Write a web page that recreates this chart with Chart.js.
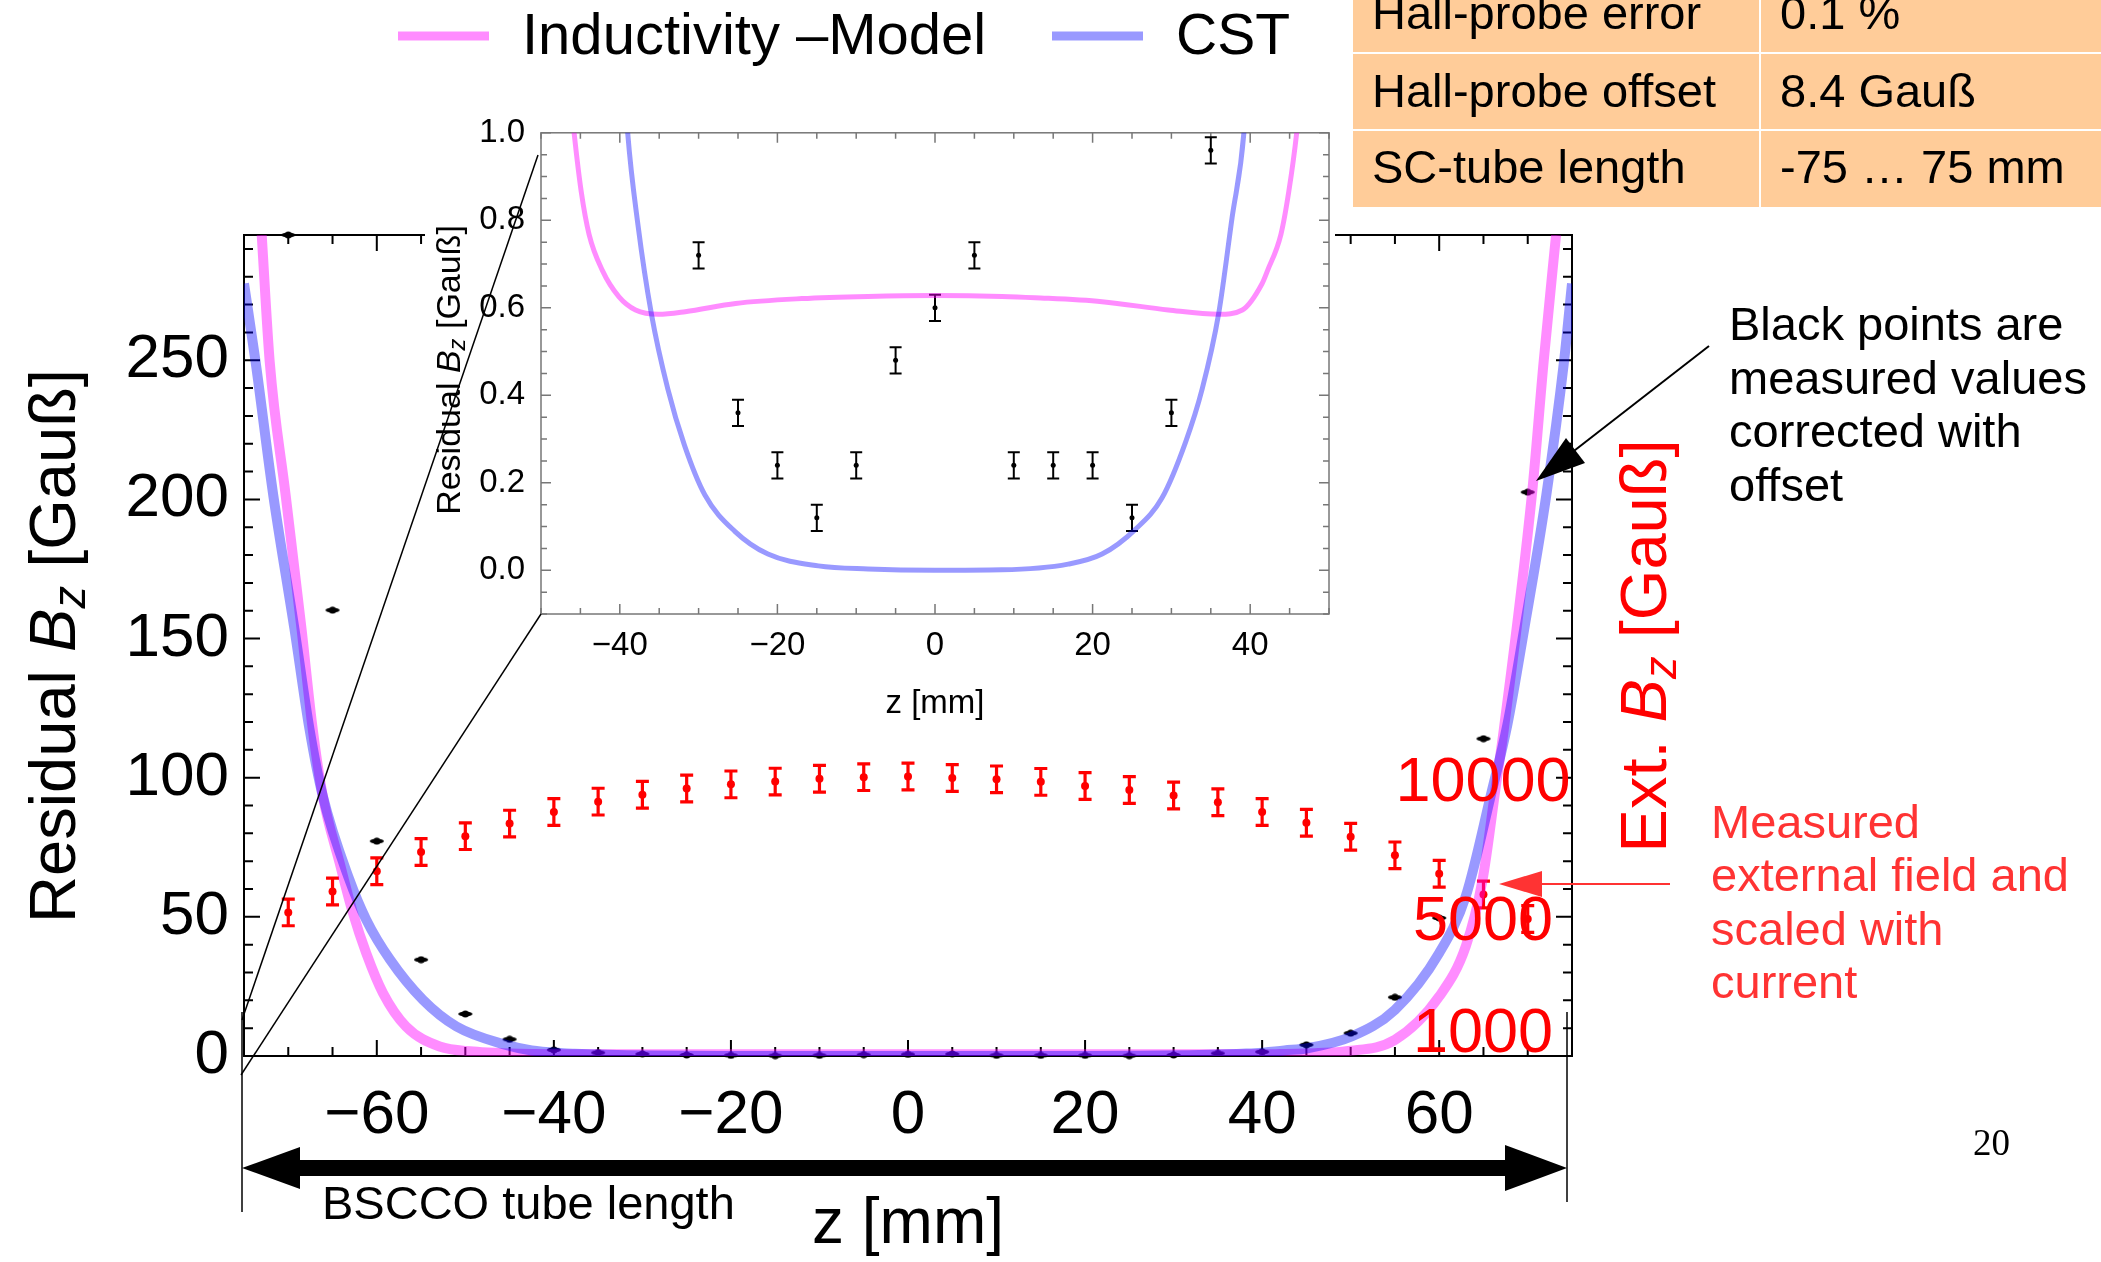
<!DOCTYPE html>
<html>
<head>
<meta charset="utf-8">
<title>Residual Bz</title>
<script src="https://cdn.jsdelivr.net/npm/chart.js@4.4.1/dist/chart.umd.min.js"></script>
<style>
  body { margin: 0; background: #fff; }
  #page { position: relative; width: 2101px; height: 1262px; overflow: hidden; background: #fff;
          font-family: "Liberation Sans", Arial, sans-serif; color: #000; }
  .t { position: absolute; white-space: nowrap; line-height: 1; }
  .rot { transform: translate(-50%, -50%) rotate(-90deg); }
  .cell { position: absolute; background: #ffcc99; }
  #mainChart { position: absolute; left: 0; top: 0; }
  #insetBox { position: absolute; left: 425px; top: 105px; width: 910px; height: 630px; background: #fff; }
  #overlay { position: absolute; left: 0; top: 0; }
  sub { font-size: 0.7em; vertical-align: -0.22em; line-height: 0; }
</style>
</head>
<body>
<div id="page">
  <canvas id="mainChart" width="2101" height="1262"></canvas>
  <div id="insetBox"><canvas id="insetChart" width="910" height="630"></canvas></div>

  <svg id="overlay" width="2101" height="1262">
    <!-- legend samples -->
    <line x1="398" y1="36" x2="489" y2="36" stroke="rgba(255,0,255,0.45)" stroke-width="9"/>
    <line x1="1052" y1="36" x2="1143" y2="36" stroke="rgba(0,0,255,0.4)" stroke-width="9"/>
    <!-- zoom lines to the inset -->
    <line x1="538" y1="155" x2="242" y2="1020" stroke="#000" stroke-width="1.5"/>
    <line x1="541" y1="614" x2="241" y2="1075" stroke="#000" stroke-width="1.5"/>
    <!-- tube length markers -->
    <line x1="242" y1="1012" x2="242" y2="1212" stroke="#000" stroke-width="1.5"/>
    <line x1="1567" y1="1012" x2="1567" y2="1202" stroke="#000" stroke-width="1.5"/>
    <rect x="296" y="1160" width="1212" height="16" fill="#000"/>
    <polygon points="242,1168 300,1147 300,1189" fill="#000"/>
    <polygon points="1567,1168 1505,1145 1505,1191" fill="#000"/>
    <!-- annotation arrows -->
    <line x1="1709" y1="346" x2="1570" y2="454" stroke="#000" stroke-width="2"/>
    <polygon points="1536,481 1585,463 1566,438" fill="#000"/>
    <line x1="1670" y1="884" x2="1540" y2="884" stroke="#ff3333" stroke-width="2"/>
    <polygon points="1499,884 1542,871 1542,897" fill="#ff3333"/>
  </svg>

  <!-- legend -->
  <div class="t" style="left:522px; top:5px; font-size:58px;">Inductivity –Model</div>
  <div class="t" style="left:1176px; top:6px; font-size:57px;">CST</div>

  <!-- parameter table -->
  <div class="cell" style="left:1353px; top:-24px; width:406px; height:76px;"></div>
  <div class="cell" style="left:1761px; top:-24px; width:340px; height:76px;"></div>
  <div class="cell" style="left:1353px; top:54px; width:406px; height:75px;"></div>
  <div class="cell" style="left:1761px; top:54px; width:340px; height:75px;"></div>
  <div class="cell" style="left:1353px; top:131px; width:406px; height:76px;"></div>
  <div class="cell" style="left:1761px; top:131px; width:340px; height:76px;"></div>
  <div class="t" style="left:1372px; top:-11px; font-size:47px;">Hall-probe error</div>
  <div class="t" style="left:1780px; top:-11px; font-size:47px;">0.1 %</div>
  <div class="t" style="left:1372px; top:67px; font-size:47px;">Hall-probe offset</div>
  <div class="t" style="left:1780px; top:67px; font-size:47px;">8.4 Gauß</div>
  <div class="t" style="left:1372px; top:143px; font-size:47px;">SC-tube length</div>
  <div class="t" style="left:1780px; top:143px; font-size:47px;">-75 … 75 mm</div>

  <!-- axis titles -->
  <div class="t rot" style="left:52px; top:646px; font-size:65px;">Residual <i>B</i><sub><i>z</i></sub> [Gauß]</div>
  <div class="t rot" style="left:1643px; top:646px; font-size:65px; color:#ff0000;">Ext. <i>B</i><sub><i>z</i></sub> [Gauß]</div>
  <div class="t" style="left:908px; top:1189px; font-size:64px; transform:translateX(-50%);">z [mm]</div>
  <div class="t rot" style="left:448px; top:370px; font-size:34px;">Residual <i>B</i><sub><i>z</i></sub> [Gauß]</div>
  <div class="t" style="left:935px; top:685px; font-size:33px; transform:translateX(-50%);">z [mm]</div>

  <!-- annotations -->
  <div class="t" style="left:322px; top:1179px; font-size:47px;">BSCCO tube length</div>
  <div class="t" style="left:1729px; top:297px; font-size:47px; line-height:53.5px;">Black points are<br>measured values<br>corrected with<br>offset</div>
  <div class="t" style="left:1711px; top:795px; font-size:47px; line-height:53.3px; color:#ff3333;">Measured<br>external field and<br>scaled with<br>current</div>
  <div class="t" style="left:1973px; top:1124px; font-size:37px; font-family:'Liberation Serif','Times New Roman',serif;">20</div>
</div>

<script>
  const FONT = '"Liberation Sans", Arial, sans-serif';

  // measurement positions along the tube, mm
  const zMeasured = [-70, -65, -60, -55, -50, -45, -40, -35, -30, -25, -20, -15, -10, -5, 0,
                     5, 10, 15, 20, 25, 30, 35, 40, 45, 50, 55, 60, 65, 70];
  // residual Bz inside the tube (black points), Gauss
  const residualMeasured = [295, 160.2, 77.2, 34.6, 15.1, 6.0, 2.2, 1.2, 0.72, 0.36, 0.24, 0.12, 0.24, 0.48, 0.60,
                            0.72, 0.24, 0.24, 0.24, 0.12, 0.36, 0.96, 1.5, 4.0, 8.2, 21.1, 49.6, 114.0, 202.6];
  const residualErr = 0.03;
  // external field scaled with current (red points), Gauss
  const extField = [5160, 5910, 6640, 7330, 7900, 8350, 8770, 9140, 9390, 9610, 9760, 9860, 9960, 10020, 10040,
                    9990, 9940, 9850, 9700, 9560, 9360, 9120, 8770, 8380, 7880, 7210, 6550, 5800, 4920];
  const extFieldErr = 480;

  // inductivity model curve
  const modelZ = [-73.0, -72.1, -70.3, -68.5, -67.3, -66.1, -64.2, -62.7, -61.2, -59.3,
                  -56.7, -52.9, -49.1, -45.8, -44.9, -43.9, -42.2, -40.1, -38.0, -35.1,
                  -31.7, -25.3, -16.9, -8.5, 0, 8.5, 12.7, 21.2, 29.6, 36.0,
                  39.0, 41.5, 42.2, 43.9, 44.9, 45.9, 49.5, 55.0, 60.0, 63.0,
                  64.9, 66.4, 67.3, 70.5, 71.8, 73.2];
  const modelBz = [295, 249.6, 201.6, 153.4, 119, 93.4, 69.4, 51.4, 37.0, 22.6,
                   10.6, 3.4, 1.6, 1.0, 0.866, 0.768, 0.685, 0.625, 0.595, 0.585,
                   0.591, 0.61, 0.621, 0.626, 0.628, 0.626, 0.623, 0.614, 0.595, 0.585,
                   0.595, 0.655, 0.685, 0.768, 0.866, 1.0, 1.7, 5.8, 21.4, 39.4,
                   63.4, 97, 117.4, 202.6, 249.6, 295];

  // CST simulation curve
  const cstZ = [-75, -73.7, -71.7, -69.3, -67.6, -66.1, -63.1, -61.2, -58.5, -54.8,
                -51.0, -45.4, -42.5, -39.0, -37.7, -36.0, -33.9, -31.8, -29.2, -25.4,
                -21.2, -14.8, -8.5, 0, 8.5, 16.9, 21.2, 25.4, 28.8, 31.8,
                33.9, 36.0, 37.7, 39.2, 42.5, 45.1, 50.1, 55.0, 60.0, 63.0,
                65.9, 67.7, 69.6, 72.1, 74.1, 75];
  const cstBz = [277.6, 249.6, 201.6, 153.4, 117.4, 93.4, 63.4, 49.0, 34.6, 20.2,
                 10.6, 4.0, 2.0, 1.0, 0.79, 0.587, 0.414, 0.286, 0.172, 0.089,
                 0.037, 0.010, 0.003, 0.0, 0.001, 0.014, 0.037, 0.093, 0.165, 0.293,
                 0.414, 0.587, 0.806, 1.0, 2.0, 2.8, 7.0, 16.6, 37.0, 57.4,
                 94.6, 119, 153.4, 201.6, 249.6, 277.6];

  // ticks
  const mainXTicks = [-60, -40, -20, 0, 20, 40, 60];
  const mainYTicks = [0, 50, 100, 150, 200, 250];
  const extTickLabels = [1000, 5000, 10000];
  const insetXTicks = [-40, -20, 0, 20, 40];
  const insetYTicks = [0, 0.2, 0.4, 0.6, 0.8, 1.0];

  const pinkLine = 'rgba(255, 0, 255, 0.45)';
  const blueLine = 'rgba(0, 0, 255, 0.4)';

  function xy(xs, ys) {
    return xs.map((x, i) => ({ x: x, y: ys[i] }));
  }
  function minus(v) {
    return v < 0 ? '\u2212' + Math.abs(v) : String(v);
  }
  function minorValues(min, max, step) {
    const out = [];
    for (let k = Math.ceil(min / step - 1e-9); k * step <= max + 1e-9; k++) out.push(k * step);
    return out;
  }

  // marker for the measured residual points: small flat blob with a dot
  const blob = document.createElement('canvas');
  blob.width = 16; blob.height = 8;
  (function () {
    const c = blob.getContext('2d');
    c.fillStyle = '#000';
    c.beginPath();
    c.ellipse(8, 4, 7, 2.6, 0, 0, Math.PI * 2);
    c.fill();
    c.beginPath();
    c.arc(8, 4, 3.6, 0, Math.PI * 2);
    c.fill();
  })();

  // box frame with inward ticks on all four sides
  const frameTicks = {
    id: 'frameTicks',
    beforeDatasetsDraw(chart, args, o) {
      const { ctx, chartArea: a } = chart;
      const xs = chart.scales.x, ys = chart.scales.y;
      ctx.save();
      ctx.strokeStyle = o.color;
      ctx.lineWidth = o.lineWidth;
      ctx.strokeRect(a.left, a.top, a.right - a.left, a.bottom - a.top);
      ctx.beginPath();
      minorValues(xs.min, xs.max, o.xStep).forEach((v) => {
        const len = o.xMajor.some((m) => Math.abs(m - v) < 1e-6) ? o.majorLen : o.minorLen;
        const px = xs.getPixelForValue(v);
        ctx.moveTo(px, a.bottom); ctx.lineTo(px, a.bottom - len);
        ctx.moveTo(px, a.top); ctx.lineTo(px, a.top + len);
      });
      minorValues(ys.min, ys.max, o.yStep).forEach((v) => {
        const len = o.yMajor.some((m) => Math.abs(m - v) < 1e-6) ? o.majorLen : o.minorLen;
        const py = ys.getPixelForValue(v);
        ctx.moveTo(a.left, py); ctx.lineTo(a.left + len, py);
        ctx.moveTo(a.right, py); ctx.lineTo(a.right - len, py);
      });
      ctx.stroke();
      ctx.restore();
    }
  };

  // vertical error bars for datasets carrying an "errors" list
  const errorBars = {
    id: 'errorBars',
    beforeDatasetsDraw(chart) {
      const { ctx, chartArea: a } = chart;
      chart.data.datasets.forEach((ds, i) => {
        if (!ds.errors) return;
        const meta = chart.getDatasetMeta(i);
        const ys = chart.scales[meta.yAxisID];
        ctx.save();
        ctx.beginPath();
        ctx.rect(a.left, a.top, a.right - a.left, a.bottom - a.top);
        ctx.clip();
        ctx.strokeStyle = ds.errorColor;
        ctx.lineWidth = ds.errorWidth;
        ctx.beginPath();
        meta.data.forEach((pt, j) => {
          const v = ds.data[j].y, e = ds.errors[j];
          const y1 = ys.getPixelForValue(v + e), y2 = ys.getPixelForValue(v - e);
          const x = pt.x, c = ds.capHalf;
          ctx.moveTo(x, y1); ctx.lineTo(x, y2);
          ctx.moveTo(x - c, y1); ctx.lineTo(x + c, y1);
          ctx.moveTo(x - c, y2); ctx.lineTo(x + c, y2);
        });
        ctx.stroke();
        ctx.restore();
      });
    }
  };

  // red labels of the external-field axis, drawn inside the frame
  const extAxisLabels = {
    id: 'extAxisLabels',
    afterDatasetsDraw(chart, args, o) {
      if (!o.values) return;
      const s = chart.scales.y2, ctx = chart.ctx;
      ctx.save();
      ctx.fillStyle = o.color;
      ctx.font = o.font;
      ctx.textAlign = 'center';
      ctx.textBaseline = 'middle';
      o.values.forEach((v) => ctx.fillText(String(v), chart.chartArea.right - o.offset, s.getPixelForValue(v) + o.shift));
      ctx.restore();
    }
  };

  new Chart(document.getElementById('mainChart'), {
    type: 'scatter',
    data: {
      datasets: [
        { label: 'CST', data: xy(cstZ, cstBz), showLine: true, borderColor: blueLine, borderWidth: 10,
          pointRadius: 0, cubicInterpolationMode: 'monotone', yAxisID: 'y', order: 0 },
        { label: 'Inductivity -Model', data: xy(modelZ, modelBz), showLine: true, borderColor: pinkLine, borderWidth: 10,
          pointRadius: 0, cubicInterpolationMode: 'monotone', yAxisID: 'y', order: 1 },
        { label: 'measured', data: xy(zMeasured, residualMeasured), showLine: false, pointStyle: blob,
          pointRadius: 6, yAxisID: 'y', clip: false, order: 2 },
        { label: 'external', data: xy(zMeasured, extField), showLine: false, pointRadius: 4,
          pointBackgroundColor: '#ff0000', pointBorderWidth: 0, yAxisID: 'y2', order: 3,
          errors: zMeasured.map(() => extFieldErr), errorColor: '#ff0000', errorWidth: 3.2, capHalf: 6.5 }
      ]
    },
    options: {
      responsive: false,
      animation: false,
      events: [],
      layout: { padding: { top: 235, left: 0, right: 0, bottom: 0 } },
      plugins: {
        legend: { display: false },
        tooltip: { enabled: false },
        frameTicks: { color: '#000', lineWidth: 2, majorLen: 16, minorLen: 9,
                      xMajor: mainXTicks, xStep: 5, yMajor: mainYTicks, yStep: 10 },
        extAxisLabels: { values: extTickLabels, color: '#ff0000', font: '63px ' + FONT, offset: 89, shift: 6 }
      },
      scales: {
        x: {
          type: 'linear', min: -75, max: 75, position: 'bottom',
          afterFit: (s) => { s.height = 206; },
          afterBuildTicks: (s) => { s.ticks = mainXTicks.map((v) => ({ value: v })); },
          grid: { display: false }, border: { display: false },
          ticks: { padding: 15, color: '#000', maxRotation: 0, autoSkip: false,
                   font: { family: FONT, size: 62 }, callback: (v) => minus(v) }
        },
        y: {
          type: 'linear', min: 0, max: 295, position: 'left',
          afterFit: (s) => { s.width = 244; },
          afterBuildTicks: (s) => { s.ticks = mainYTicks.map((v) => ({ value: v })); },
          grid: { display: false }, border: { display: false },
          ticks: { padding: 7, color: '#000', font: { family: FONT, size: 62 } }
        },
        y2: {
          type: 'linear', min: 0, max: 29500, position: 'right',
          afterFit: (s) => { s.width = 2101 - 1572; },
          grid: { display: false }, border: { display: false },
          ticks: { display: false }
        }
      }
    },
    plugins: [frameTicks, errorBars, extAxisLabels]
  });

  new Chart(document.getElementById('insetChart'), {
    type: 'scatter',
    data: {
      datasets: [
        { label: 'CST', data: xy(cstZ, cstBz), showLine: true, borderColor: blueLine, borderWidth: 5,
          pointRadius: 0, cubicInterpolationMode: 'monotone', order: 0 },
        { label: 'Inductivity -Model', data: xy(modelZ, modelBz), showLine: true, borderColor: pinkLine, borderWidth: 5,
          pointRadius: 0, cubicInterpolationMode: 'monotone', order: 1 },
        { label: 'measured', data: xy(zMeasured, residualMeasured), showLine: false, pointRadius: 2.5,
          pointBackgroundColor: '#000', pointBorderWidth: 0, order: 2,
          errors: zMeasured.map(() => residualErr), errorColor: '#000', errorWidth: 2, capHalf: 6 }
      ]
    },
    options: {
      responsive: false,
      animation: false,
      events: [],
      layout: { padding: { top: 22, left: 0, right: 6, bottom: 0 } },
      plugins: {
        legend: { display: false },
        tooltip: { enabled: false },
        frameTicks: { color: '#777', lineWidth: 1.5, majorLen: 10, minorLen: 6,
                      xMajor: insetXTicks, xStep: 5, yMajor: insetYTicks, yStep: 0.05 }
      },
      scales: {
        x: {
          type: 'linear', min: -50, max: 50,
          afterFit: (s) => { s.height = 121; },
          afterBuildTicks: (s) => { s.ticks = insetXTicks.map((v) => ({ value: v })); },
          grid: { display: false }, border: { display: false },
          ticks: { padding: 4, color: '#000', maxRotation: 0, autoSkip: false,
                   font: { family: FONT, size: 33 }, callback: (v) => minus(v) }
        },
        y: {
          type: 'linear', min: -0.1, max: 1.0,
          afterFit: (s) => { s.width = 116; },
          afterBuildTicks: (s) => { s.ticks = insetYTicks.map((v) => ({ value: v })); },
          grid: { display: false }, border: { display: false },
          ticks: { padding: 8, color: '#000', font: { family: FONT, size: 33 },
                   callback: (v) => Number(v).toFixed(1) }
        }
      }
    },
    plugins: [frameTicks, errorBars]
  });
</script>
</body>
</html>
